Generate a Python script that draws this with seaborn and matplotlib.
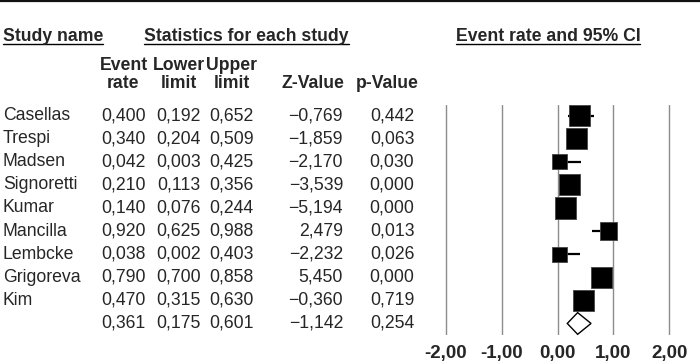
import numpy as np
import pandas as pd
import matplotlib
matplotlib.use("Agg")
import matplotlib.pyplot as plt
import matplotlib.transforms as mtransforms
from matplotlib.lines import Line2D
import seaborn as sns

# data
studies = ["Casellas", "Trespi", "Madsen", "Signoretti", "Kumar",
           "Mancilla", "Lembcke", "Grigoreva", "Kim"]
event_rate = [0.400, 0.340, 0.042, 0.210, 0.140, 0.920, 0.038, 0.790, 0.470]
lower_limit = [0.192, 0.204, 0.003, 0.113, 0.076, 0.625, 0.002, 0.700, 0.315]
upper_limit = [0.652, 0.509, 0.425, 0.356, 0.244, 0.988, 0.403, 0.858, 0.630]
z_value = [-0.769, -1.859, -2.170, -3.539, -5.194, 2.479, -2.232, 5.450, -0.360]
p_value = [0.442, 0.063, 0.030, 0.000, 0.000, 0.013, 0.026, 0.000, 0.719]
# relative weights (from the size of the squares)
weight = [12.0, 12.2, 6.0, 12.0, 12.2, 8.2, 6.0, 12.2, 12.2]

pooled_rate, pooled_lower, pooled_upper = 0.361, 0.175, 0.601
pooled_z, pooled_p = -1.142, 0.254

tick_values = [-2, -1, 0, 1, 2]
tick_labels = ["-2,00", "-1,00", "0,00", "1,00", "2,00"]


def fmt(v):
    return f"{v:.3f}".replace(".", ",").replace("-", "\u2212")


sns.set_theme(style="white")
plt.rcParams["font.family"] = ["Liberation Sans", "DejaVu Sans"]
FS = 12.7

W, H = 700, 364
fig = plt.figure(figsize=(W / 100, H / 100), dpi=100)
fig.patch.set_facecolor("white")

# forest plot area
ax = fig.add_axes([418 / W, (H - 335) / H, (697 - 418) / W, (335 - 105) / H])
rows = np.arange(len(studies))
pooled_row = len(studies)

df = pd.DataFrame({"study": studies, "rate": event_rate, "lo": lower_limit,
                   "hi": upper_limit, "row": rows, "weight": weight})

ax.hlines(df["row"], df["lo"], df["hi"], color="black", lw=1.6, zorder=2)
sns.scatterplot(data=df, x="rate", y="row", size="weight", sizes=(112, 233),
                size_norm=(6.0, 12.2), marker="s", color="black",
                edgecolor="#444444", linewidth=0.6, legend=False, ax=ax, zorder=3)

dh = 0.47
ax.fill([pooled_lower, pooled_rate, pooled_upper, pooled_rate],
        [pooled_row, pooled_row - dh, pooled_row, pooled_row + dh],
        facecolor="white", edgecolor="black", lw=1.0, zorder=3, clip_on=False)

ax.set_xlim(-2.5, 2.5)
ax.set_ylim(pooled_row + 0.5, -0.46)
ax.set_xticks(tick_values)
ax.set_xticklabels(tick_labels, fontweight="bold", fontsize=13.5)
ax.set_yticks([])
ax.set_xlabel("")
ax.set_ylabel("")
ax.grid(axis="x", color="#8c8c8c", lw=1.0)
ax.grid(axis="y", visible=False)
ax.tick_params(axis="x", length=0, pad=7)
for s in ax.spines.values():
    s.set_visible(False)
ax.set_facecolor("none")

# table to the left, rows share the forest plot's y scale
trans = mtransforms.blended_transform_factory(fig.transFigure, ax.transData)
col_event, col_lower, col_upper, col_z, col_p = 123.5 / W, 178.5 / W, 231.5 / W, 343 / W, 392 / W

for i, name in enumerate(studies):
    ax.text(3 / W, i, name, transform=trans, ha="left", va="center", fontsize=FS)
    ax.text(col_event, i, fmt(event_rate[i]), transform=trans, ha="center", va="center", fontsize=FS)
    ax.text(col_lower, i, fmt(lower_limit[i]), transform=trans, ha="center", va="center", fontsize=FS)
    ax.text(col_upper, i, fmt(upper_limit[i]), transform=trans, ha="center", va="center", fontsize=FS)
    ax.text(col_z, i, fmt(z_value[i]), transform=trans, ha="right", va="center", fontsize=FS)
    ax.text(col_p, i, fmt(p_value[i]), transform=trans, ha="center", va="center", fontsize=FS)

for xc, v, ha in [(col_event, pooled_rate, "center"), (col_lower, pooled_lower, "center"),
                  (col_upper, pooled_upper, "center"), (col_z, pooled_z, "right"),
                  (col_p, pooled_p, "center")]:
    ax.text(xc, pooled_row, fmt(v), transform=trans, ha=ha, va="center", fontsize=FS)

# headers
def fy(y):
    return 1 - y / H

titles = []
titles.append(fig.text(3 / W, fy(41.3), "Study name", ha="left", va="baseline",
                       fontsize=FS, fontweight="bold"))
titles.append(fig.text(144 / W, fy(41.3), "Statistics for each study", ha="left",
                       va="baseline", fontsize=FS, fontweight="bold"))
titles.append(fig.text(548 / W, fy(41.3), "Event rate and 95% CI", ha="center",
                       va="baseline", fontsize=FS, fontweight="bold"))

for xc, top, bottom in [(col_event, "Event", "rate"), (col_lower, "Lower", "limit"),
                        (col_upper, "Upper", "limit")]:
    fig.text(xc, fy(70.3), top, ha="center", va="baseline", fontsize=FS, fontweight="bold")
    fig.text(xc, fy(88.5), bottom, ha="center", va="baseline", fontsize=FS, fontweight="bold")
fig.text(313 / W, fy(88.5), "Z-Value", ha="center", va="baseline", fontsize=FS, fontweight="bold")
fig.text(387 / W, fy(88.5), "p-Value", ha="center", va="baseline", fontsize=FS, fontweight="bold")

# underline the section titles
fig.canvas.draw()
renderer = fig.canvas.get_renderer()
for t in titles:
    bb = t.get_window_extent(renderer)
    fig.add_artist(Line2D([bb.x0 / W, bb.x1 / W], [fy(43.8), fy(43.8)],
                          color="black", lw=1.0))

# black rule across the top
fig.add_artist(Line2D([0, 1], [fy(1), fy(1)], color="#111111", lw=1.6))

fig.savefig("out.png", dpi=100, facecolor="white")
